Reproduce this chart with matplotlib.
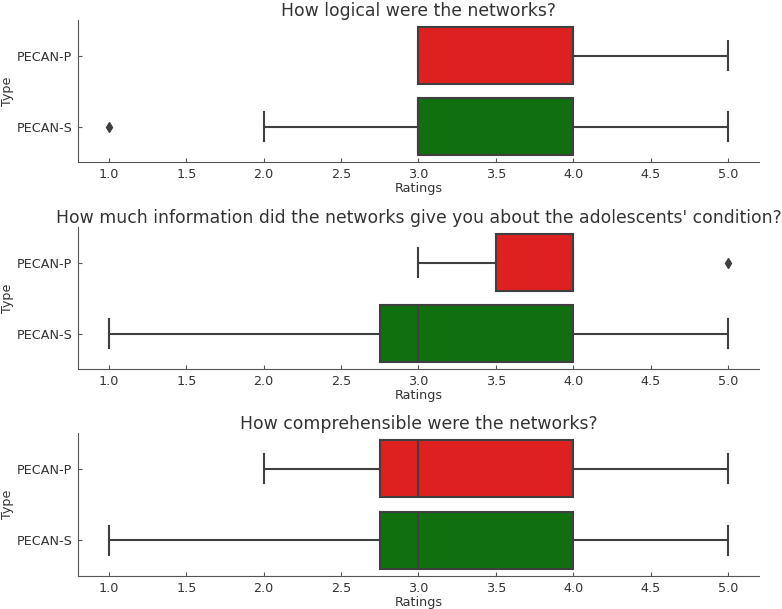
import numpy as np
import matplotlib
matplotlib.use("Agg")
import matplotlib.pyplot as plt

# box stats
titles = ["How logical were the networks?",
          "How much information did the networks give you about the adolescents' condition?",
          "How comprehensible were the networks?"]
types = ["PECAN-P", "PECAN-S"]
colors = ["#df2020", "#107010"]

q1 = [[3.0, 3.0], [3.5, 2.75], [2.75, 2.75]]
med = [[4.0, 3.0], [4.0, 3.0], [3.0, 3.0]]
q3 = [[4.0, 4.0], [4.0, 4.0], [4.0, 4.0]]
whislo = [[3.0, 2.0], [3.0, 1.0], [2.0, 1.0]]
whishi = [[5.0, 5.0], [4.0, 5.0], [5.0, 5.0]]
fliers = [[[], [1.0]], [[5.0], []], [[], []]]

txt = "#333333"
edge = "#3f3f3f"
plt.rcParams['text.color'] = txt
plt.rcParams['axes.labelcolor'] = txt
plt.rcParams['xtick.color'] = txt
plt.rcParams['ytick.color'] = txt

fig = plt.figure(figsize=(7.82, 6.09), dpi=100)
boxes = [[0.0997, 0.734, 0.8709, 0.233],
         [0.0997, 0.394, 0.8709, 0.233],
         [0.0997, 0.054, 0.8709, 0.235]]

for k in range(3):
    ax = fig.add_axes(boxes[k])
    stats = []
    for j in range(2):
        stats.append(dict(q1=q1[k][j], med=med[k][j], q3=q3[k][j],
                          whislo=whislo[k][j], whishi=whishi[k][j],
                          fliers=fliers[k][j], label=types[j]))
    bp = ax.bxp(stats, positions=[0, 1], vert=False, widths=0.8,
                patch_artist=True, showcaps=True,
                boxprops=dict(edgecolor=edge, linewidth=1.5),
                whiskerprops=dict(color=edge, linewidth=1.5),
                capprops=dict(color=edge, linewidth=1.5),
                medianprops=dict(color=edge, linewidth=1.5),
                flierprops=dict(marker='d', markerfacecolor=edge,
                                markeredgecolor=edge, markersize=5))
    for p, c in zip(bp['boxes'], colors):
        p.set_facecolor(c)
    ax.set_xlim(0.8, 5.2)
    ax.set_ylim(1.5, -0.5)
    ax.set_xticks(np.arange(1.0, 5.01, 0.5))
    ax.set_xticklabels([f"{v:.1f}" for v in np.arange(1.0, 5.01, 0.5)])
    ax.set_yticks([0, 1])
    ax.set_yticklabels(types)
    ax.tick_params(labelsize=9.2, length=3, direction="in", pad=4, color="#555555")
    ax.set_xlabel("Ratings", fontsize=9.2, labelpad=1)
    ax.set_ylabel("Type", fontsize=9.2, labelpad=2)
    ax.set_title(titles[k], fontsize=12.4, pad=3)
    for s in ["top", "right"]:
        ax.spines[s].set_visible(False)
    for s in ["left", "bottom"]:
        ax.spines[s].set_color("#555555")

fig.savefig("out.png", dpi=100)
